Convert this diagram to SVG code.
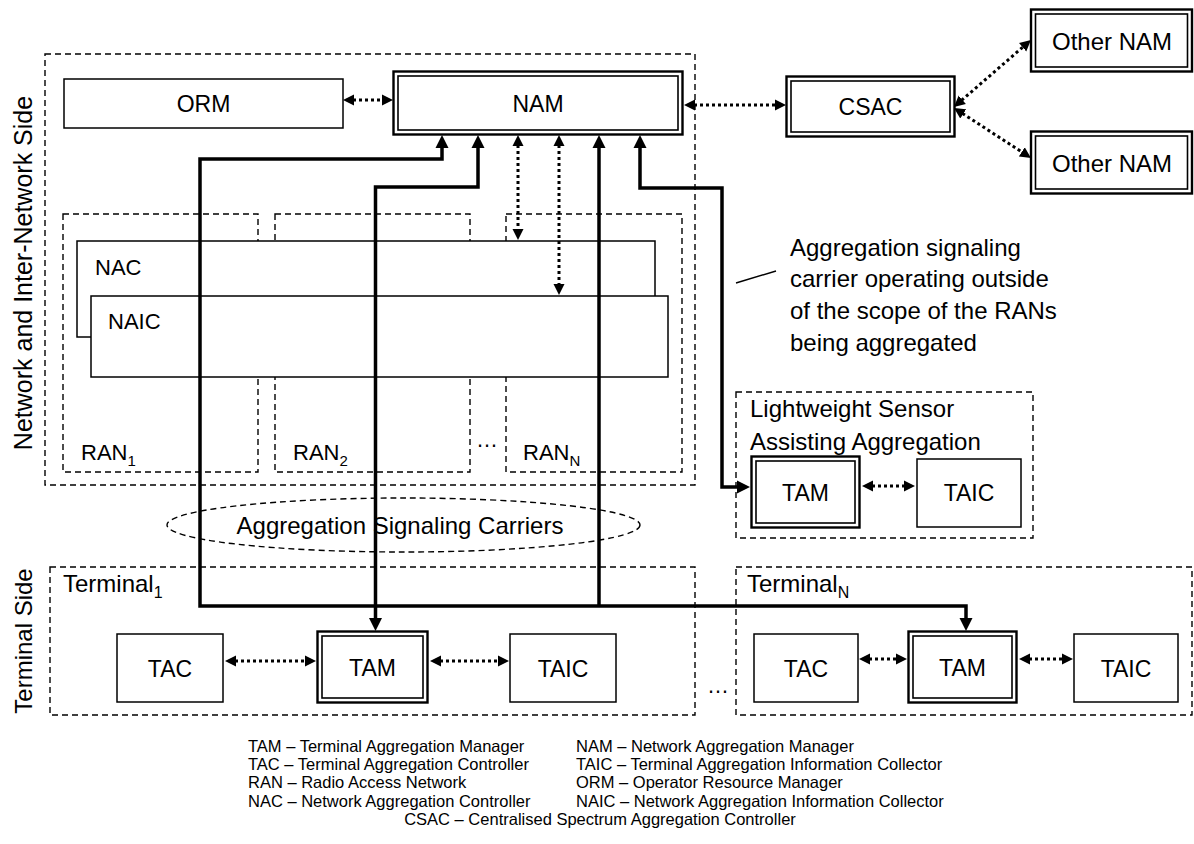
<svg xmlns="http://www.w3.org/2000/svg" width="1194" height="844" viewBox="0 0 1194 844">
<style>
text{font-family:"Liberation Sans",Arial,sans-serif;fill:#000}
.lbl{font-size:23px;text-anchor:middle}
.big{font-size:24px}
.leg{font-size:16.5px}
.box{fill:#fff;stroke:#000;stroke-width:1.5}
.ob{fill:#fff;stroke:#000;stroke-width:2.4}
.ib{fill:none;stroke:#000;stroke-width:1.6}
.dash{fill:none;stroke:#000;stroke-width:1.4;stroke-dasharray:6 4}
.thick{fill:none;stroke:#000;stroke-width:3.5;stroke-linejoin:miter}
.dot{fill:none;stroke:#000;stroke-width:3;stroke-dasharray:3 3}
</style>
<defs>
<marker id="mt" viewBox="0 -7 14 14" refX="1" refY="0" markerWidth="14" markerHeight="14" markerUnits="userSpaceOnUse" orient="auto-start-reverse"><path d="M0,-6.5 L13,0 L0,6.5 z" fill="#000"/></marker>
<marker id="md" viewBox="0 -6 12 12" refX="1" refY="0" markerWidth="12" markerHeight="12" markerUnits="userSpaceOnUse" orient="auto-start-reverse"><path d="M0,-5.5 L11,0 L0,5.5 z" fill="#000"/></marker>
</defs>
<rect width="1194" height="844" fill="#fff"/>

<g id="network-side">
<rect class="dash" x="45" y="54" width="650" height="431"/>
<text transform="translate(32,273) rotate(-90)" text-anchor="middle" style="font-size:25px">Network and Inter-Network Side</text>
</g>
<g id="terminal-side-label">
<text class="big" transform="translate(32,641) rotate(-90)" text-anchor="middle">Terminal Side</text>
</g>

<g id="ran1"><rect class="dash" x="63" y="214" width="195" height="258"/><text x="81" y="460" style="font-size:22px">RAN<tspan dy="6" style="font-size:15px">1</tspan></text></g>
<g id="ran2"><rect class="dash" x="275" y="214" width="195" height="258"/><text x="293" y="460" style="font-size:22px">RAN<tspan dy="6" style="font-size:15px">2</tspan></text></g>
<g id="rann"><rect class="dash" x="506" y="214" width="176" height="258"/><text x="523" y="460" style="font-size:22px">RAN<tspan dy="6" style="font-size:15px">N</tspan></text></g>
<text x="476" y="447" style="font-size:22px">…</text>

<g id="nac"><rect class="box" x="77" y="241" width="578" height="96"/><text x="95" y="275" style="font-size:22px">NAC</text></g>
<g id="naic"><rect class="box" x="91" y="296" width="577" height="81"/><text x="108" y="329" style="font-size:22px">NAIC</text></g>

<g id="orm"><rect class="box" x="64" y="79" width="279" height="49"/><text class="lbl" x="203.5" y="112">ORM</text></g>
<g id="nam"><rect class="ob" x="393.5" y="71.5" width="289" height="63"/><rect class="ib" x="398" y="76" width="280" height="54"/><text class="lbl" x="538" y="112">NAM</text></g>
<g id="csac"><rect class="ob" x="786.5" y="76.5" width="168" height="60"/><rect class="ib" x="791" y="81" width="159" height="51"/><text class="lbl" x="870.5" y="115">CSAC</text></g>
<g id="other-nam-1"><rect class="ob" x="1031" y="9.5" width="161" height="62"/><rect class="ib" x="1035.5" y="14" width="152" height="53"/><text class="lbl" x="1112" y="50" style="font-size:24px">Other NAM</text></g>
<g id="other-nam-2"><rect class="ob" x="1031" y="131.5" width="161" height="62"/><rect class="ib" x="1035.5" y="136" width="152" height="53"/><text class="lbl" x="1112" y="172" style="font-size:24px">Other NAM</text></g>

<g id="annotation">
<line x1="736" y1="283" x2="776" y2="271" stroke="#000" stroke-width="1.4"/>
<text class="big" x="790" y="256">Aggregation signaling</text>
<text class="big" x="790" y="287">carrier operating outside</text>
<text class="big" x="790" y="319">of the scope of the RANs</text>
<text class="big" x="790" y="351">being aggregated</text>
</g>

<g id="lightweight-sensor">
<rect class="dash" x="736" y="392" width="297" height="146"/>
<text class="big" x="750" y="417">Lightweight Sensor</text>
<text class="big" x="750" y="450">Assisting Aggregation</text>
</g>
<g id="tam-lw"><rect class="ob" x="751.5" y="456.5" width="108" height="71"/><rect class="ib" x="756" y="461" width="99" height="62"/><text class="lbl" x="805.5" y="501">TAM</text></g>
<g id="taic-lw"><rect class="box" x="917" y="459" width="104" height="68"/><text class="lbl" x="969" y="501">TAIC</text></g>

<g id="carriers">
<ellipse class="dash" cx="403.5" cy="525" rx="236.5" ry="27"/>
<text class="big" x="400" y="534" text-anchor="middle">Aggregation Signaling Carriers</text>
</g>

<g id="terminal-1">
<rect class="dash" x="50" y="567" width="645" height="148"/>
<text class="big" x="63" y="592">Terminal<tspan dy="6" style="font-size:16px">1</tspan></text>
</g>
<g id="tac-1"><rect class="box" x="117" y="634" width="106" height="68"/><text class="lbl" x="170" y="677">TAC</text></g>
<g id="tam-1"><rect class="ob" x="317.5" y="631.5" width="110" height="71"/><rect class="ib" x="322" y="636" width="101" height="62"/><text class="lbl" x="372.5" y="676">TAM</text></g>
<g id="taic-1"><rect class="box" x="510" y="634" width="106" height="68"/><text class="lbl" x="563" y="677">TAIC</text></g>
<text x="707" y="693" style="font-size:22px">…</text>

<g id="terminal-n">
<rect class="dash" x="736" y="567" width="456" height="148"/>
<text class="big" x="747" y="592">Terminal<tspan dy="6" style="font-size:16px">N</tspan></text>
</g>
<g id="tac-n"><rect class="box" x="754" y="634" width="104" height="68"/><text class="lbl" x="806" y="677">TAC</text></g>
<g id="tam-n"><rect class="ob" x="908.5" y="631.5" width="108" height="71"/><rect class="ib" x="913" y="636" width="99" height="62"/><text class="lbl" x="962.5" y="676">TAM</text></g>
<g id="taic-n"><rect class="box" x="1074" y="634" width="104" height="68"/><text class="lbl" x="1126" y="677">TAIC</text></g>

<g id="connectors">
<path class="thick" d="M442,147 V159 H200 V606 H966 V619" marker-start="url(#mt)" marker-end="url(#mt)"/>
<path class="thick" d="M599,147 V607" marker-start="url(#mt)"/>
<path class="thick" d="M478,147 V187 H375.5 V619" marker-start="url(#mt)" marker-end="url(#mt)"/>
<path class="thick" d="M640,147 V188 H722 V487 H738" marker-start="url(#mt)" marker-end="url(#mt)"/>
<path class="dot" d="M353,100 H383" marker-start="url(#md)" marker-end="url(#md)"/>
<path class="dot" d="M694,105 H776" marker-start="url(#md)" marker-end="url(#md)"/>
<path class="dot" d="M961.5,100.4 L1023.4,46.6" marker-start="url(#md)" marker-end="url(#md)"/>
<path class="dot" d="M962.4,113.4 L1022.6,152.5" marker-start="url(#md)" marker-end="url(#md)"/>
<path class="dot" d="M518,145 V230" marker-start="url(#md)" marker-end="url(#md)"/>
<path class="dot" d="M559,145 V285" marker-start="url(#md)" marker-end="url(#md)"/>
<path class="dot" d="M872,486 H905" marker-start="url(#md)" marker-end="url(#md)"/>
<path class="dot" d="M235,661 H306" marker-start="url(#md)" marker-end="url(#md)"/>
<path class="dot" d="M440,661 H499" marker-start="url(#md)" marker-end="url(#md)"/>
<path class="dot" d="M869,659 H897" marker-start="url(#md)" marker-end="url(#md)"/>
<path class="dot" d="M1029,659 H1063" marker-start="url(#md)" marker-end="url(#md)"/>
</g>

<g id="legend">
<text class="leg" x="248" y="752">TAM – Terminal Aggregation Manager</text>
<text class="leg" x="248" y="770">TAC – Terminal Aggregation Controller</text>
<text class="leg" x="248" y="788">RAN – Radio Access Network</text>
<text class="leg" x="248" y="807">NAC – Network Aggregation Controller</text>
<text class="leg" x="576" y="752">NAM – Network Aggregation Manager</text>
<text class="leg" x="576" y="770">TAIC – Terminal Aggregation Information Collector</text>
<text class="leg" x="576" y="788">ORM – Operator Resource Manager</text>
<text class="leg" x="576" y="807">NAIC – Network Aggregation Information Collector</text>
<text class="leg" x="600" y="825" text-anchor="middle">CSAC – Centralised Spectrum Aggregation Controller</text>
</g>
</svg>
